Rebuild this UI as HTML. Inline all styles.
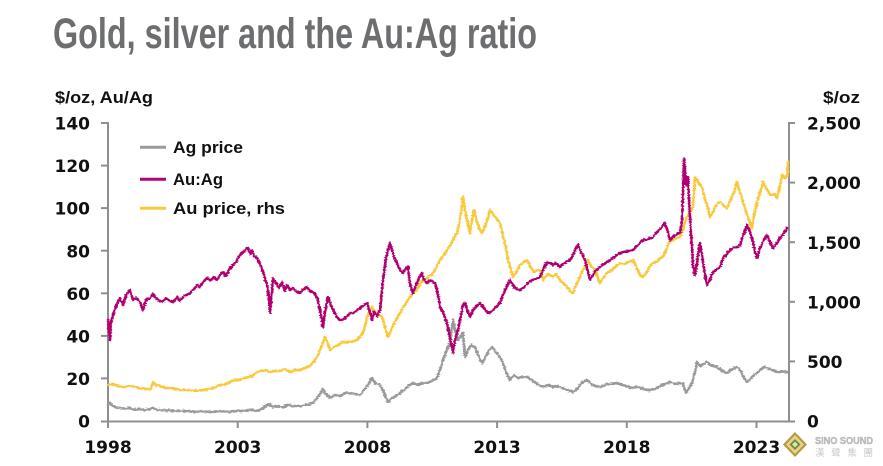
<!DOCTYPE html>
<html><head><meta charset="utf-8"><style>
html,body{margin:0;padding:0;background:#fff;}
svg{display:block;}
</style></head><body>
<svg width="883" height="466" viewBox="0 0 883 466" xmlns="http://www.w3.org/2000/svg">
<defs>
<filter id="jit" x="-2%" y="-5%" width="104%" height="110%">
<feTurbulence type="fractalNoise" baseFrequency="0.35 0.9" numOctaves="1" seed="3" result="n"/>
<feDisplacementMap in="SourceGraphic" in2="n" scale="3.5" xChannelSelector="R" yChannelSelector="G"/>
</filter>
</defs>
<rect width="883" height="466" fill="#fff"/>
<!-- Title -->
<text x="53" y="48" font-family="'Liberation Sans Narrow','Liberation Sans',sans-serif" font-weight="bold" font-size="43" fill="#6d6e70" textLength="484" lengthAdjust="spacingAndGlyphs">Gold, silver and the Au:Ag ratio</text>
<!-- axis titles -->
<text x="55" y="103" font-family="'Liberation Sans',sans-serif" font-weight="bold" font-size="16.5" fill="#111" textLength="98" lengthAdjust="spacingAndGlyphs">$/oz, Au/Ag</text>
<text x="823" y="103" font-family="'Liberation Sans',sans-serif" font-weight="bold" font-size="16.5" fill="#111" textLength="37" lengthAdjust="spacingAndGlyphs">$/oz</text>

<!-- axes -->
<g stroke="#8f8f8f" stroke-width="2" fill="none">
<line x1="108" y1="122" x2="108" y2="422"/>
<line x1="789" y1="122" x2="789" y2="422"/>
<line x1="101" y1="421.5" x2="795" y2="421.5"/>
<line x1="101" y1="378.4" x2="108" y2="378.4"/>
<line x1="101" y1="335.9" x2="108" y2="335.9"/>
<line x1="101" y1="293.3" x2="108" y2="293.3"/>
<line x1="101" y1="250.7" x2="108" y2="250.7"/>
<line x1="101" y1="208.1" x2="108" y2="208.1"/>
<line x1="101" y1="165.6" x2="108" y2="165.6"/>
<line x1="101" y1="123" x2="108" y2="123"/>
<line x1="789" y1="123" x2="795" y2="123"/>
<line x1="789" y1="182.6" x2="795" y2="182.6"/>
<line x1="789" y1="242.2" x2="795" y2="242.2"/>
<line x1="789" y1="301.8" x2="795" y2="301.8"/>
<line x1="789" y1="361.4" x2="795" y2="361.4"/>
<line x1="108" y1="421" x2="108" y2="428"/>
<line x1="237.7" y1="421" x2="237.7" y2="428"/>
<line x1="367.4" y1="421" x2="367.4" y2="428"/>
<line x1="497.1" y1="421" x2="497.1" y2="428"/>
<line x1="626.8" y1="421" x2="626.8" y2="428"/>
<line x1="756.5" y1="421" x2="756.5" y2="428"/>
</g>

<!-- left labels -->
<g font-family="'DejaVu Sans',sans-serif" font-weight="bold" font-size="17" fill="#111" text-anchor="end">
<text x="90" y="427.5">0</text>
<text x="90" y="385">20</text>
<text x="90" y="342.5">40</text>
<text x="90" y="300">60</text>
<text x="90" y="257.3">80</text>
<text x="90" y="214.7">100</text>
<text x="90" y="172.2">120</text>
<text x="90" y="129.6">140</text>
</g>
<!-- right labels -->
<g font-family="'DejaVu Sans',sans-serif" font-weight="bold" font-size="17" fill="#111">
<text x="807" y="427.5">0</text>
<text x="807" y="368">500</text>
<text x="807" y="308.4">1,000</text>
<text x="807" y="248.8">1,500</text>
<text x="807" y="189.2">2,000</text>
<text x="807" y="129.6">2,500</text>
</g>
<!-- x labels -->
<g font-family="'DejaVu Sans',sans-serif" font-weight="bold" font-size="17" fill="#111" text-anchor="middle">
<text x="108" y="453">1998</text>
<text x="237.7" y="453">2003</text>
<text x="367.4" y="453">2008</text>
<text x="497.1" y="453">2013</text>
<text x="626.8" y="453">2018</text>
<text x="756.5" y="453">2023</text>
</g>

<!-- series -->
<g fill="none" stroke-width="2.6" stroke-linejoin="round" stroke-linecap="round" filter="url(#jit)">
<polyline stroke="#f9c93d" points="108,385 112,384 118,386 125,387 132,386 140,388 147,389 151,389 153,382 156,385 160,386 166,388 172,388 180,390 188,390 195,391 202,390 208,389 214,388 220,385 226,384 232,381 237,380 242,379 248,377 252,376 256,373 260,371 265,370 270,372 275,371 280,371 285,369 290,372 295,370 300,370 305,368 310,366 315,360 318,355 322,345 325,337 328,344 330,350 334,347 338,345 343,342 348,342 353,341 357,340 360,337 364,330 367,317 370,310 372,307 375,312 378,315 382,317 385,327 388,337 391,330 395,322 400,313 404,306 408,300 413,293 417,290 420,283 425,280 429,276 432,275 436,268 440,260 444,255 447,250 451,244 454,238 457,233 460,220 462,205 463,197 465,210 467,220 470,233 472,220 474,210 477,222 480,230 482,233 485,226 488,218 490,210 493,214 496,218 500,223 503,236 506,248 508,260 511,270 513,277 517,271 520,265 524,262 527,260 530,266 534,272 537,270 540,270 543,280 546,276 549,274 553,277 556,274 560,280 563,283 567,287 570,291 573,293 576,285 580,277 584,268 588,260 591,266 595,270 598,278 600,283 603,278 607,273 612,270 616,266 620,263 625,264 629,262 633,260 636,266 640,275 643,277 647,272 650,266 653,263 657,262 660,258 663,257 667,248 670,240 674,240 677,238 680,237 683,229 687,217 690,212 693,207 694,190 695,177 698,182 701,186 703,190 705,200 707,205 710,217 713,212 716,205 720,202 724,206 727,208 730,201 734,192 737,182 740,192 743,202 746,212 749,220 752,228 754,215 757,202 760,192 763,182 766,188 770,195 774,194 777,198 780,186 782,175 785,178 787,176 788,162"/>
<polyline stroke="#9a9a9a" points="108,405 110,403 113,406 117,408 120,408 125,409 130,408 135,410 140,409 145,410 150,409 153,408 157,410 165,410 175,411 185,411 195,412 200,411 210,412 220,411 230,412 237,411 245,411 252,410 258,411 263,408 266,406 270,404 273,407 278,406 283,407 288,405 293,406 300,406 305,405 310,404 313,403 317,398 320,394 323,389 325,393 328,396 330,398 335,395 340,396 345,393 350,393 355,394 360,395 364,390 368,385 372,378 375,383 380,385 383,390 386,398 388,402 392,398 396,396 400,393 404,390 408,386 413,383 418,385 422,383 427,383 432,381 437,378 440,370 443,360 446,352 450,343 453,320 455,330 458,340 461,336 463,333 465,357 468,350 471,345 475,347 478,355 482,363 486,356 489,350 492,347 496,352 500,357 503,363 506,372 510,380 514,375 518,378 523,377 527,377 532,380 537,384 543,387 548,385 553,387 556,386 560,387 564,389 568,390 573,392 577,389 581,384 584,381 587,380 591,384 595,386 600,387 605,385 610,384 617,383 622,385 627,386 632,388 637,387 642,388 646,390 650,390 655,389 660,386 665,384 670,382 675,384 680,383 683,384 686,393 689,388 692,383 695,372 697,362 700,366 703,364 707,362 710,365 713,366 717,367 721,370 724,372 727,373 731,370 734,368 737,367 741,371 744,378 747,382 750,379 753,376 757,373 760,370 763,368 765,367 769,369 773,370 777,372 780,372 784,371 787,372"/>
<polyline stroke="#b0056f" points="108,320 109,330 110,340 111,322 114,312 117,304 120,298 123,305 126,295 130,290 133,300 136,298 140,302 143,310 146,300 150,298 153,294 155,297 158,300 162,302 166,298 170,301 173,302 177,297 180,301 184,296 187,295 190,293 194,289 197,285 200,287 204,281 207,278 211,280 214,277 217,280 220,275 223,272 226,276 229,270 233,265 236,262 238,258 240,255 243,252 246,249 248,248 250,254 252,250 254,256 257,258 260,264 263,272 265,278 267,285 269,298 270,313 271,305 273,278 276,283 279,288 282,282 285,291 287,285 290,290 293,288 297,292 300,293 303,290 307,287 310,291 314,293 317,297 320,310 323,327 325,312 328,297 331,305 334,312 337,317 340,320 343,320 347,316 350,313 354,313 357,310 360,308 363,306 367,303 369,309 372,320 374,312 377,316 380,310 382,290 384,272 386,258 388,250 390,243 392,250 394,257 397,263 400,270 403,273 406,268 408,267 410,285 413,293 416,285 419,278 422,273 424,280 427,283 430,280 435,283 438,295 440,307 443,312 447,323 450,338 453,353 455,340 458,330 461,315 463,305 465,303 468,312 470,317 473,310 477,306 480,303 484,308 487,312 490,313 494,309 497,306 500,303 503,295 507,286 510,280 514,287 517,289 520,290 524,287 528,283 532,280 536,279 540,277 544,268 547,262 550,263 553,265 556,263 560,267 563,264 566,262 570,260 573,255 576,248 578,245 581,252 585,260 588,272 590,280 593,275 596,270 600,267 604,264 607,262 610,260 613,258 617,255 620,253 624,252 628,251 633,250 636,247 640,243 643,240 646,240 650,238 653,237 657,232 661,228 665,223 668,232 670,240 674,236 677,234 680,233 682,220 683,195 684,158 685,170 686,185 687,178 688,177 689,200 690,217 691,235 692,245 693,267 695,275 697,262 700,243 703,262 705,275 707,285 710,280 713,272 716,270 720,267 723,258 727,254 730,250 733,248 737,247 740,245 743,236 747,225 750,232 753,242 755,252 757,258 760,248 764,240 767,235 770,242 773,248 777,243 780,238 784,233 787,228"/>
</g>

<!-- legend -->
<g stroke-width="3">
<line x1="140" y1="147.3" x2="166" y2="147.3" stroke="#9a9a9a"/>
<line x1="140" y1="179.3" x2="166" y2="179.3" stroke="#b0056f"/>
<line x1="140" y1="208.3" x2="166" y2="208.3" stroke="#f9c93d"/>
</g>
<g font-family="'Liberation Sans',sans-serif" font-weight="bold" font-size="17" fill="#111">
<text x="173" y="153" textLength="70" lengthAdjust="spacingAndGlyphs">Ag price</text>
<text x="173" y="185" textLength="50" lengthAdjust="spacingAndGlyphs">Au:Ag</text>
<text x="173" y="214" textLength="112" lengthAdjust="spacingAndGlyphs">Au price, rhs</text>
</g>

<!-- watermark -->
<g>
<polygon points="795,432 807,444.5 795,457 783,444.5" fill="#b89a3c"/>
<polygon points="795,435 804,444.5 795,454 786,444.5" fill="#e6d48a"/>
<polygon points="795,439 800.5,444.5 795,450 789.5,444.5" fill="#6f8a3a"/>
<polygon points="795,441.5 798,444.5 795,447.5 792,444.5" fill="#d8e6b0"/>
<text x="815" y="444" font-family="'Liberation Sans',sans-serif" font-weight="bold" font-size="10" fill="#c4c4c4" stroke="#9a9a9a" stroke-width="0.3" textLength="58" lengthAdjust="spacingAndGlyphs">SINO SOUND</text>
<text x="815" y="456" font-family="'Liberation Sans','Noto Sans CJK TC',sans-serif" font-size="9.5" fill="#c8c8c8" textLength="58" lengthAdjust="spacing">漢聲集團</text>
</g>
</svg>
</body></html>
